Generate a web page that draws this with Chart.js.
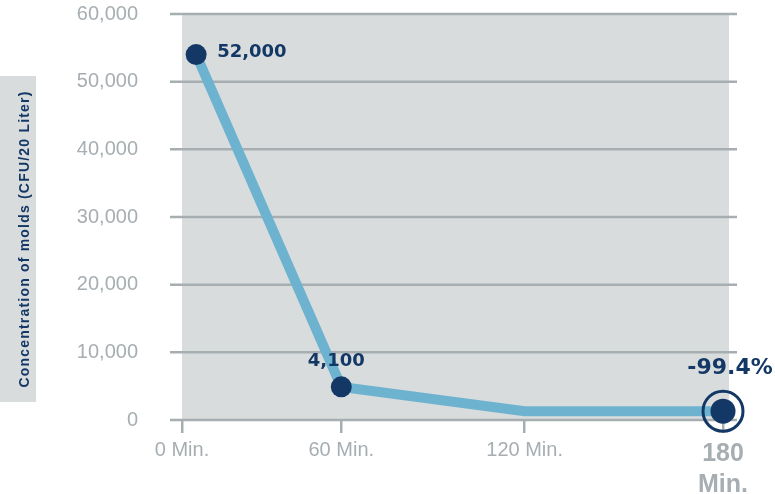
<!DOCTYPE html>
<html>
<head>
<meta charset="utf-8">
<script src="https://cdn.jsdelivr.net/npm/chart.js@4.4.1/dist/chart.umd.min.js"></script>
<style>
  html, body { margin: 0; padding: 0; background: #fff; }
  #wrap { width: 775px; height: 494px; }
</style>
</head>
<body>
<div id="wrap"><canvas id="chart" width="775" height="494"></canvas></div>
<script>
// minutes on the x axis, as the points sit in the picture
const timeValues = [4.7, 53, 114, 180];
const moldValues = [54000, 4900, 1300, 1300];
const pointLabels = ['52,000', '4,100', '', '-99.4%'];
const xTickValues = [0, 53, 114, 180];
const xTickLabels = ['0 Min.', '60 Min.', '120 Min.', ['180', 'Min.']];
const yTickValues = [0, 10000, 20000, 30000, 40000, 50000, 60000];
const yTitle = 'Concentration of molds (CFU/20 Liter)';

const NAVY = '#143865';
const GREY = '#a7aeb1';
const PANEL = '#d9dcdd';
const LINE = '#6db3cf';
const FAMILY = '"Liberation Sans", Arial, sans-serif';

// grey panel, y title box and the long grid lines
const backdrop = {
  id: 'backdrop',
  beforeDraw(chart) {
    const { ctx } = chart;
    ctx.save();
    ctx.fillStyle = PANEL;
    ctx.fillRect(0, 76, 36, 326);
    ctx.translate(28.5, 239);
    ctx.rotate(-Math.PI / 2);
    ctx.font = 'bold 14px ' + FAMILY;
    ctx.letterSpacing = '1.2px';
    ctx.textAlign = 'center';
    ctx.textBaseline = 'alphabetic';
    ctx.fillStyle = NAVY;
    ctx.fillText(yTitle, 0, 0);
    ctx.restore();
  },
  beforeDatasetsDraw(chart) {
    const { ctx, chartArea: a, scales: { y } } = chart;
    ctx.save();
    ctx.fillStyle = PANEL;
    ctx.fillRect(a.left, a.top, a.right - a.left + 6, a.bottom - a.top);
    ctx.strokeStyle = GREY;
    ctx.lineWidth = 2.5;
    y.ticks.forEach(t => {
      const py = y.getPixelForValue(t.value);
      ctx.beginPath();
      ctx.moveTo(a.left - 12, py);
      ctx.lineTo(a.right + 14, py);
      ctx.stroke();
    });
    ctx.restore();
  }
};

// value labels next to the points
const valueLabels = {
  id: 'valueLabels',
  afterDatasetsDraw(chart) {
    const { ctx } = chart;
    const place = [
      { dx: 21, dy: -2, align: 'left', size: 18 },
      { dx: -5, dy: -26, align: 'center', size: 18 },
      null,
      { dx: 7, dy: -43, align: 'center', size: 22 }
    ];
    const meta = chart.getDatasetMeta(0);
    ctx.save();
    ctx.fillStyle = NAVY;
    ctx.textBaseline = 'middle';
    meta.data.forEach((pt, i) => {
      const p = place[i];
      if (!p || !pointLabels[i]) return;
      ctx.font = 'bold ' + p.size + 'px "DejaVu Sans", sans-serif';
      ctx.textAlign = p.align;
      ctx.fillText(pointLabels[i], pt.x + p.dx, pt.y + p.dy);
    });
    ctx.restore();
  }
};

const points = timeValues.map((x, i) => ({ x: x, y: moldValues[i] }));

new Chart(document.getElementById('chart'), {
  type: 'line',
  data: {
    datasets: [
      {
        data: points,
        borderColor: LINE,
        borderWidth: 10,
        pointRadius: [10.5, 10.5, 0, 12.5],
        pointBackgroundColor: NAVY,
        pointBorderWidth: 0,
        clip: false,
        order: 1
      },
      {
        // ring round the last point
        data: [points[3]],
        showLine: false,
        pointRadius: 20,
        pointBorderWidth: 3,
        pointBorderColor: NAVY,
        pointBackgroundColor: 'rgba(0,0,0,0)',
        clip: false,
        order: 0
      }
    ]
  },
  options: {
    responsive: false,
    animation: false,
    events: [],
    layout: { autoPadding: false, padding: { top: 14, right: 52, left: 0, bottom: 0 } },
    plugins: { legend: { display: false }, tooltip: { enabled: false } },
    scales: {
      x: {
        type: 'linear',
        min: 0,
        max: 180,
        afterBuildTicks: s => { s.ticks = xTickValues.map(v => ({ value: v })); },
        afterFit: s => { s.height = 74; },
        grid: { drawOnChartArea: false, drawTicks: true, tickLength: 13, color: GREY, lineWidth: 2.5 },
        border: { display: false },
        ticks: {
          autoSkip: false,
          maxRotation: 0,
          padding: 5,
          color: GREY,
          callback: (v, i) => xTickLabels[i],
          font: ctx => ctx.index === 3
            ? { family: FAMILY, size: 25, weight: 'bold', lineHeight: 1.25 }
            : { family: FAMILY, size: 20 }
        }
      },
      y: {
        min: 0,
        max: 60000,
        afterBuildTicks: s => { s.ticks = yTickValues.map(v => ({ value: v })); },
        afterFit: s => { s.width = 182; s.paddingTop = 0; s.paddingBottom = 0; },
        grid: { display: false, drawTicks: false },
        border: { display: false },
        ticks: {
          padding: 44,
          color: GREY,
          font: { family: FAMILY, size: 20 },
          callback: v => v.toLocaleString('en-US')
        }
      }
    }
  },
  plugins: [backdrop, valueLabels]
});
</script>
</body>
</html>
